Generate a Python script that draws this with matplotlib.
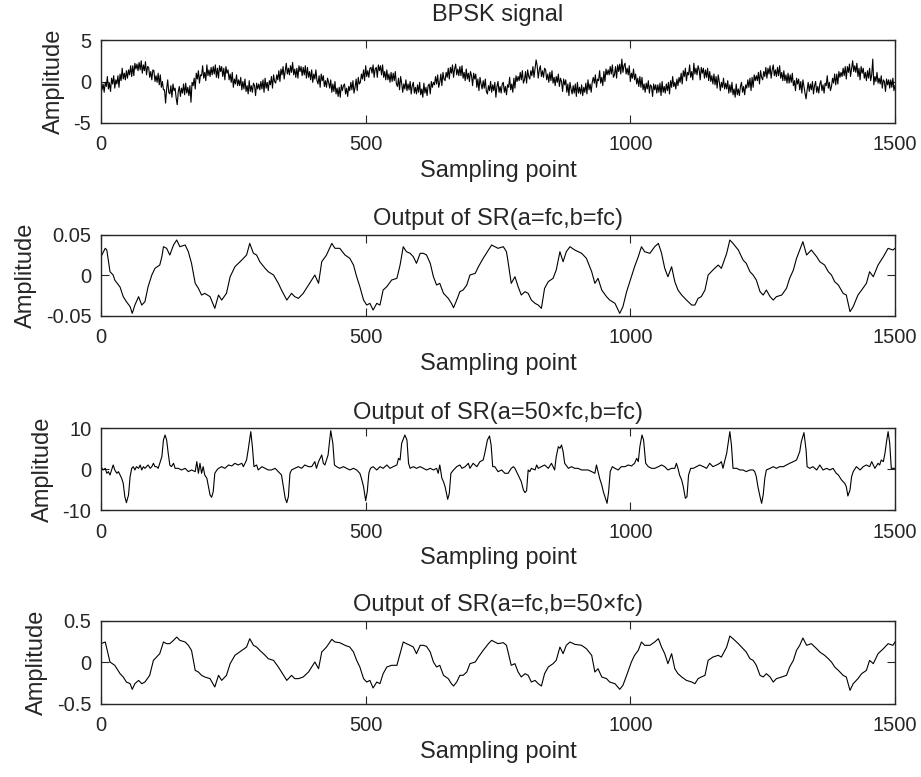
import numpy as np
import matplotlib
matplotlib.use('Agg')
import matplotlib.pyplot as plt

plt.rcParams['font.family'] = ['Liberation Sans', 'DejaVu Sans']

# ---------------- data ----------------
titles = ['BPSK signal', 'Output of SR(a=fc,b=fc)',
          'Output of SR(a=50×fc,b=fc)', 'Output of SR(a=fc,b=50×fc)']
ylims = [(-5, 5), (-0.05, 0.05), (-10, 10), (-0.5, 0.5)]
yticks = [[-5, 0, 5], [-0.05, 0, 0.05], [-10, 0, 10], [-0.5, 0, 0.5]]
yticklabels = [['-5', '0', '5'], ['-0.05', '0', '0.05'],
               ['-10', '0', '10'], ['-0.5', '0', '0.5']]
xticks = [0, 500, 1000, 1500]
xticklabels = ['0', '500', '1000', '1500']

# BPSK signal, one value every 2 sampling points (0..1500)
bpsk_x = np.arange(0, 1501, 2)
bpsk_y = [
    0.2, -1.0, -0.3, -1.3, -0.1, -0.6, 0.6, -0.9, -0.2, -1.2,
    0.4, -0.3, 0.7, -0.8, 0.2, -0.3, 0.7, -0.7, 0.9, 0.1,
    1.6, 0.3, 1.0, 0.2, 1.3, 0.4, 1.4, 0.8, 1.9, 0.6,
    1.9, 0.7, 2.2, 1.5, 2.1, 1.3, 2.3, 1.4, 2.5, 1.0,
    2.0, 1.3, 2.4, 0.8, 1.8, 1.7, 0.5, 1.2, 0.2, 1.4,
    1.3, 0.0, 0.7, -0.1, 1.0, -0.4, 0.8, -0.7, 0.0, -1.0,
    -1.0, -2.6, -0.9, 0.2, -1.3, -1.5, -0.5, -1.9, -0.3, -1.1,
    -0.8, -2.0, -2.8, -1.2, -0.6, -1.8, -0.8, -1.4, -0.3, -1.6,
    -0.2, -1.4, -0.7, -1.7, -0.5, -2.5, -0.1, -0.5, 0.4, -0.9,
    1.0, 0.3, 1.3, -0.2, 0.8, 0.7, 1.9, 0.4, 1.1, 0.1,
    2.0, 0.7, 1.4, 0.6, 1.7, 0.8, 1.8, 0.9, 2.0, 0.5,
    1.6, 0.4, 1.9, 1.2, 1.8, 0.6, 1.6, 0.2, 1.8, 1.0,
    1.4, 0.2, 0.9, -0.1, 1.1, -0.7, 0.3, -0.3, 0.8, -0.5,
    0.2, -0.5, 0.5, -1.0, 0.0, -0.9, 0.3, -1.2, -0.5, -1.5,
    0.1, -1.2, -0.5, -1.3, -0.2, -0.5, -1.7, -0.2, -0.9, -0.3,
    -1.0, 0.0, -0.9, 0.2, -1.3, 0.4, -0.8, -0.1, -1.1, 0.1,
    -0.4, 0.6, -0.8, 0.8, 0.0, -0.2, 0.8, 0.2, 1.3, 0.0,
    1.5, 0.8, 1.8, 0.3, 1.3, 2.2, 0.9, 1.6, 0.8, 1.9,
    1.1, 2.3, 0.8, 1.5, 0.5, 1.6, 0.4, 1.9, 1.2, 1.8,
    0.7, 1.7, 0.8, 1.9, 0.4, 1.7, 0.5, 1.2, 0.2, 1.4,
    -0.1, 0.9, 0.3, 1.4, 0.1, -0.3, 0.7, -0.7, 0.9, 0.1,
    0.7, -0.6, 0.1, -0.7, 0.4, -0.1, -0.8, 0.2, -1.3, -0.3,
    -1.2, 0.0, -1.5, -0.8, -1.8, -0.7, -1.9, -0.4, -1.1, -0.5,
    -0.3, -1.5, -0.8, -1.8, -0.6, -1.1, -0.1, -1.0, 0.1, -1.4,
    -0.7, 0.3, -1.1, 0.5, -0.3, -0.1, 0.9, 0.3, 1.4, 0.1,
    1.9, 0.6, 1.3, 0.5, 1.6, 1.7, 1.0, 2.0, 0.5, 1.5,
    1.7, 0.5, 2.0, 1.3, 1.9, 0.8, 2.0, 0.5, 1.2, 0.2,
    1.4, 0.2, 0.9, -0.1, 1.1, 0.0, 1.0, 0.1, 1.2, -0.3,
    -0.6, 0.4, -1.0, 0.6, -0.2, -1.3, -0.3, -0.9, 0.2, -1.1,
    -0.3, -1.0, 0.0, -1.5, -0.5, -0.1, -1.4, -0.7, -1.5, -0.4,
    -1.3, -0.1, -1.6, -0.9, -1.9, -0.2, -1.4, -0.7, -1.7, -0.5,
    -0.3, -1.5, 0.0, -0.7, -0.1, -0.4, 0.6, -0.3, 0.8, -0.7,
    -0.1, 0.9, -0.5, 1.1, 0.3, 0.1, 1.1, 0.5, 1.6, 0.3,
    1.7, 1.0, 2.0, 0.5, 1.5, 2.1, 0.8, 1.5, 0.7, 1.8,
    0.7, 1.9, 0.4, 1.1, 0.1, 1.5, 0.3, 1.0, 0.0, 1.2,
    0.7, -0.5, 1.0, 0.3, 0.9, -0.7, 0.3, -1.1, 0.5, -0.3,
    -0.9, 0.1, -0.8, 0.3, -1.2, -1.5, -0.5, -1.1, 0.0, -1.3,
    -0.4, -1.1, -0.1, -1.9, -0.6, 0.0, -1.3, -0.6, -1.4, -0.3,
    -0.1, -1.3, -0.6, -1.6, -0.4, -0.7, 0.5, -1.0, -0.3, -1.3,
    0.4, -0.8, 0.7, 0.0, 0.6, 0.1, 1.1, 0.2, 1.3, -0.2,
    0.2, 1.2, -0.2, 1.4, 0.6, 0.3, 1.3, 0.7, 1.8, 0.5,
    1.6, 2.6, 1.9, 0.4, 1.4, 1.9, 0.6, 1.3, 0.5, 1.6,
    1.4, 0.2, 0.9, -0.1, 1.1, 0.1, 1.3, -0.2, 0.5, -0.5,
    0.6, -0.1, 0.9, -0.6, 0.4, 0.0, -1.2, 0.3, -0.4, 0.2,
    -1.3, -0.3, -1.7, -0.1, -0.9, -1.5, -0.5, -1.4, -0.3, -1.8,
    -0.1, -1.4, -0.7, -1.5, -0.4, -1.7, -0.7, -1.3, -0.2, -1.5,
    0.2, -1.0, -0.3, -1.3, -0.1, 0.5, -0.2, 0.8, -0.7, 0.3,
    0.1, 1.3, -0.2, 0.5, -0.5, 1.2, 0.0, 1.5, 0.8, 1.4,
    0.8, 1.8, 0.9, 2.0, 0.5, 0.8, 1.8, 0.4, 2.0, 1.2,
    2.1, 0.9, 2.7, 1.1, 1.9, 2.2, 0.9, 1.6, 0.8, 1.9,
    0.0, 1.0, 0.4, 1.5, 0.2, 0.9, -0.3, 0.4, -0.6, 0.6,
    -0.7, 0.5, -1.0, -0.3, -1.3, -0.2, -0.9, 0.1, -1.4, -0.4,
    -0.6, -1.8, -0.3, -1.0, -0.4, -1.4, -0.4, -1.3, -0.2, -1.7,
    0.0, -1.3, -0.6, -1.4, -0.3, -1.1, -0.1, -1.5, 0.1, -0.7,
    0.6, -0.6, -0.1, -0.9, 0.3, -0.5, 0.5, -0.1, 1.0, -0.3,
    1.3, 0.6, 1.6, 0.1, 1.1, 0.8, 2.0, 0.5, 1.2, 0.2,
    2.2, 0.9, 1.6, 0.8, 1.9, 1.4, 0.2, 1.7, 1.0, 1.6,
    0.4, 1.4, 0.5, 1.6, 0.1, 1.2, 0.0, 0.7, -0.3, 0.9,
    -0.4, 0.6, -0.8, 0.8, 0.0, -1.1, -0.1, -0.7, 0.4, -0.9,
    -0.2, -0.9, 0.1, -1.4, -0.4, -1.3, -0.1, -1.6, -0.9, -1.9,
    -0.3, -1.6, -0.9, -1.7, -0.6, -0.1, -1.3, -0.6, -1.6, -0.4,
    -0.8, 0.2, -0.7, 0.4, -1.1, 0.5, -0.7, 0.8, 0.1, 0.7,
    0.1, 1.1, -0.3, 1.3, 0.5, 0.2, 1.2, 0.6, 1.7, 0.4,
    1.6, 0.9, 1.9, 0.4, 1.4, 2.0, 0.7, 1.4, 0.6, 1.7,
    0.7, 1.9, 0.4, 1.1, 0.1, 1.3, 0.1, 0.8, -0.2, 1.0,
    -0.2, 0.8, -0.1, 1.0, -0.5, 0.1, -1.1, 0.4, -0.3, 0.3,
    -1.0, 0.0, -1.4, 0.2, -0.6, -1.4, -2.1, -1.0, -0.1, -1.2,
    -0.3, -1.0, 0.0, -1.5, -0.5, 0.0, -1.3, -0.6, -1.4, -0.3,
    0.1, -1.1, -0.4, -1.4, -0.2, -0.5, 0.7, -0.8, -0.1, -1.1,
    -0.6, 0.4, -0.2, 0.9, -0.4, 0.9, -0.3, 1.2, 0.5, 1.1,
    0.6, 1.6, 0.7, 1.8, 0.3, 1.8, 1.1, 2.1, 0.6, 1.6,
    2.5, 1.2, 1.9, 1.1, 2.2, 0.6, 1.6, 0.2, 1.8, 1.0,
    1.6, 0.4, 1.1, 0.1, 1.3, 0.4, 1.6, 0.1, 0.8, 2.7,
    -0.4, 0.6, 0.0, 1.1, -0.2, 0.4, -0.3, 0.7, -0.8, 0.2,
    0.0, -1.2, 0.3, -0.4, 0.2, -0.8, 0.2, -0.7, 0.4, -1.1,
    -0.5]

# Output of SR(a=fc,b=fc)
sr1_x = [0, 8, 11, 17, 23, 26, 36, 42, 48, 55, 59, 64, 71, 77, 83, 89, 96, 102, 111, 115,
         118, 124, 130, 137, 143, 149, 159, 165, 171, 178, 184, 190, 196, 206, 215, 222, 228, 237, 244, 253,
         266, 275, 281, 288, 294, 300, 310, 316, 326, 335, 341, 351, 360, 366, 373, 382, 392, 398, 404, 411,
         417, 426, 436, 442, 451, 461, 470, 477, 483, 489, 496, 502, 508, 514, 521, 527, 533, 540, 549, 559,
         565, 571, 577, 584, 590, 596, 603, 609, 615, 622, 628, 634, 640, 647, 656, 662, 666, 672, 678, 684,
         691, 697, 707, 713, 722, 732, 738,
         744, 750, 760, 766, 769, 775, 782, 788, 794, 801, 807, 813, 820, 826, 832, 838, 845, 854, 860, 867,
         873, 879, 886, 895, 908, 917, 927, 933, 939, 946, 955, 961, 971, 980, 986, 993, 1002, 1008, 1015, 1021,
         1027, 1037, 1046, 1053, 1059, 1065, 1071, 1078, 1084, 1090, 1097, 1106, 1116, 1122, 1128, 1134, 1141,
         1147, 1156, 1166, 1172, 1182, 1188, 1194, 1204, 1213, 1219, 1226, 1232, 1238, 1245, 1251, 1257, 1264,
         1270, 1276, 1286, 1295, 1301, 1308, 1314, 1320, 1326, 1333, 1342, 1352, 1358, 1367, 1374, 1380, 1386,
         1393, 1402, 1408, 1415, 1421, 1430, 1437, 1446, 1452, 1459, 1468, 1478, 1487, 1496, 1500]
sr1_y = [0.0231, 0.0335, 0.0314, 0.0045, 0.0004, -0.0058, -0.0145, -0.0264, -0.0326, -0.0388,
         -0.0471, -0.0368, -0.0264, -0.0368, -0.0326, -0.0140, 0.0004, 0.0087, 0.0128, 0.0231,
         0.0355, 0.0335, 0.0252, 0.0376, 0.0438, 0.0355, 0.0376, 0.0293, 0.0149, -0.0099,
         -0.0161, -0.0244, -0.0223, -0.0264, -0.0409, -0.0244, -0.0306, -0.0223, -0.0017, 0.0107,
         0.0190, 0.0252, 0.0396, 0.0273, 0.0252, 0.0169, 0.0087, 0.0045, 0.0004, -0.0099,
         -0.0182, -0.0306, -0.0223, -0.0264, -0.0285, -0.0223, -0.0120, -0.0058, 0.0004, -0.0099,
         0.0169, 0.0252, 0.0396, 0.0335, 0.0335, 0.0252, 0.0211, 0.0128, -0.0017, -0.0140,
         -0.0306, -0.0368, -0.0347, -0.0430, -0.0347, -0.0368, -0.0182, -0.0140, -0.0058, -0.0037,
         0.0128, 0.0355, 0.0293, 0.0273, 0.0231, 0.0149, 0.0273, 0.0273, 0.0252, 0.0149,
         -0.0017, -0.0120, -0.0099, -0.0223, -0.0285, -0.0347, -0.0401, -0.0306, -0.0202, -0.0182,
         -0.0120, 0.0004, 0.0025, 0.0107, 0.0211, 0.0314, 0.0376,
         0.0355, 0.0335, 0.0355, 0.0293, 0.0169, -0.0099, -0.0017, -0.0140, -0.0244, -0.0202,
         -0.0223, -0.0306, -0.0347, -0.0368, -0.0409, -0.0161, -0.0078, -0.0037, 0.0066, 0.0293,
         0.0169, 0.0293, 0.0355, 0.0314, 0.0273, 0.0211, 0.0045, -0.0099, -0.0037, -0.0182,
         -0.0264, -0.0306, -0.0347, -0.0471, -0.0388, -0.0202, -0.0017, 0.0107, 0.0231, 0.0355,
         0.0293, 0.0273, 0.0355, 0.0396, 0.0273, 0.0087, -0.0017, 0.0107, -0.0078, -0.0182,
         -0.0244, -0.0306, -0.0368, -0.0368, -0.0285, -0.0264, -0.0182, 0.0004, 0.0066, 0.0128,
         0.0087, 0.0273, 0.0438, 0.0396, 0.0314, 0.0190, 0.0149, 0.0045, 0.0004, -0.0058,
         -0.0202, -0.0244, -0.0182, -0.0264, -0.0306, -0.0264, -0.0244, -0.0161, -0.0037, 0.0066,
         0.0211, 0.0314, 0.0417, 0.0252, 0.0314, 0.0231, 0.0169, 0.0128, 0.0045, 0.0004,
         -0.0078, -0.0120, -0.0223, -0.0244, -0.0450, -0.0388, -0.0244, -0.0182, -0.0099, 0.0045,
         -0.0017, 0.0128, 0.0231, 0.0335, 0.0314, 0.0335]

# Output of SR(a=50×fc,b=fc)
sr2_x = [0, 4, 8, 11, 14, 17, 20, 23, 26, 30, 33, 36, 39, 42, 45, 48, 52, 55, 58, 61,
         64, 67, 71, 74, 77, 80, 83, 86, 89, 93, 96, 99, 102, 105, 108, 111, 115, 118, 121, 124,
         127, 130, 133, 137, 140, 146, 152, 159, 165, 171, 178, 181, 184, 187, 190, 193, 196, 200, 203, 206,
         209, 212, 215, 219, 222, 228, 234, 241, 247, 253, 259, 266, 269, 272, 275, 278, 283, 286, 289, 294,
         297, 304, 310, 316, 322, 329, 335, 341, 344, 348, 351, 354, 357, 360, 366, 373, 379, 385, 392, 398,
         404, 407, 411, 417, 420, 423, 429, 434, 438, 441, 445, 451, 458, 464, 470, 477, 483, 489, 492, 496,
         500, 503, 506, 509, 514, 521, 527, 533, 540, 546, 552, 559, 562, 565, 568, 574, 578, 581, 584, 590,
         596, 603, 609, 615, 622, 628, 634, 637, 640, 644, 647, 650, 655, 658, 661, 666, 672, 678, 682, 688,
         694, 697, 703, 710, 716, 722, 725, 730, 734, 737, 740,
         744, 750, 757, 763, 769, 775, 779, 782, 788, 794, 798, 801, 804, 807, 810, 813, 820, 823, 826, 832,
         838, 845, 851, 857, 860, 864, 867, 870, 873, 876, 883, 889, 895, 901, 908, 914, 920, 927, 933, 936,
         939, 942, 946, 949, 952, 956, 959, 962, 966, 971, 977, 983, 990, 996, 1002, 1008, 1012, 1015, 1018,
         1022, 1025, 1029, 1034, 1040, 1046, 1053, 1059, 1065, 1071, 1078, 1084, 1087, 1090, 1093, 1097, 1100,
         1104, 1107, 1110, 1114, 1119, 1125, 1131, 1138, 1144, 1150, 1156, 1163, 1169, 1172, 1175, 1178, 1182,
         1188, 1191, 1194, 1201, 1207, 1213, 1219, 1226, 1232, 1235, 1238, 1241, 1245, 1248, 1251, 1254, 1257,
         1264, 1270, 1276, 1282, 1289, 1295, 1301, 1308, 1314, 1320, 1323, 1328, 1332, 1334, 1339, 1345, 1352,
         1358, 1364, 1371, 1377, 1383, 1389, 1393, 1399, 1405, 1408, 1411, 1415, 1418, 1421, 1427, 1434, 1440,
         1446, 1452, 1456, 1462, 1468, 1471, 1474, 1478, 1481, 1484, 1487, 1490, 1493, 1500]
sr2_y = [0.61, -0.20, 0.20, -1.02, -0.61, -1.43, -0.20, 1.02, -0.20, -1.02,
         -0.61, -1.43, -2.24, -3.47, -6.73, -8.20, -6.32, -1.84, 0.20, 0.61,
         -0.20, 0.61, 0.20, 1.02, -0.20, 0.61, 0.20, 0.61, 1.02, 0.20,
         0.61, 1.43, 0.61, 0.61, 0.20, 1.43, 3.06, 7.14, 8.36, 7.14,
         3.88, 1.02, 0.61, 1.43, 0.20, 0.20, -0.20, 0.20, -0.61, -0.20,
         -0.61, 1.84, -1.02, 1.43, -1.02, 0.61, -1.43, -2.24, -4.28, -6.32,
         -6.89, -5.51, -1.02, -0.20, 0.20, 0.61, 0.20, 1.02, 0.78, 1.43,
         1.02, 1.43, 0.61, 1.43, 2.24, 4.69, 9.18, 5.51, 0.61, 1.02,
         -0.20, 0.61, 0.20, -0.20, -0.20, 0.20, -0.61, -1.43, -3.88, -7.14,
         -8.20, -6.73, -1.02, -0.20, 0.20, 0.61, 0.20, 1.02, 0.61, 0.61,
         1.84, 0.20, 1.84, 3.47, 1.43, 1.02, 3.47, 9.42, 6.32, 1.02,
         0.61, 0.20, 0.61, 0.20, -0.20, 0.20, -0.20, -1.02, -2.24, -4.28,
         -7.71, -5.51, -1.02, 0.20, 0.61, -0.20, 0.61, 0.20, 1.02, 0.20,
         0.61, 1.02, 2.65, 2.24, 6.32, 8.36, 7.14, 1.43, 0.20, 0.61,
         0.20, 0.61, 0.20, -0.20, 0.20, -0.20, 0.20, -1.02, 1.02, -2.24,
         -3.06, -4.28, -7.38, -5.92, -1.02, -0.20, 0.61, 1.02, 0.20, 0.61,
         1.43, 0.20, 1.43, 0.61, 1.84, 2.24, 3.88, 7.14, 8.12, 5.92, 0.61,
         0.61, -0.61, -0.20, -1.02, -1.02, 0.20, 0.61, 0.20, -1.43, -3.06,
         -5.10, -5.75, -5.26, -0.20, -0.61, 0.20, -0.20, 1.02, 0.20, 0.61,
         1.02, 0.20, 1.43, -0.20, 3.06, 5.51, 5.10, 5.92, 4.28, 1.43,
         0.20, 0.61, 0.20, 0.20, -0.20, -0.20, -0.20, -0.61, -1.02, 1.02,
         -0.61, -2.24, -3.88, -5.51, -6.73, -8.36, -5.51, -0.61, 0.61, 0.20,
         -0.20, 0.61, 0.61, 1.02, 0.78, 1.43, 2.65, 1.84, 5.51, 8.36,
         7.14, 1.43, 0.61, 0.20, 0.20, 0.61, 1.02, 0.61, -0.20, 0.20,
         0.20, 1.43, 0.20, -1.43, -2.65, -4.28, -7.14, -6.73, -1.43, 0.20,
         0.20, 0.61, 1.02, 0.61, 0.20, 1.43, 0.61, 1.02, 1.43, 1.84,
         0.20, 1.84, 3.88, 9.18, 5.92, 0.20, 0.20, -0.20, -0.20, -0.61,
         -0.20, -0.20, -0.61, -1.84, -4.28, -6.73, -8.36, -6.32, -2.24, -0.20,
         0.20, 0.61, 0.20, 0.61, 0.61, 1.02, 1.43, 1.84, 2.24, 4.28,
         6.73, 8.94, 4.69, 0.61, 0.20, 0.61, -0.20, 1.02, -0.20, 0.20,
         -0.20, 0.20, -1.02, -1.43, -2.65, -3.47, -4.28, -6.57, -5.10, -1.84,
         -0.61, 0.61, -0.20, 0.61, 1.02, 0.61, 1.84, 0.20, 1.43, 1.02,
         2.24, 1.84, 3.88, 6.73, 9.18, 6.32, 0.20, 0.20]

# Output of SR(a=fc,b=50×fc)
sr3_x = [0, 8, 17, 26, 36, 42, 48, 55, 59, 64, 71, 77, 83, 92, 99, 105, 111, 118, 124, 130,
         137, 143, 149, 159, 165, 171, 178, 184, 190, 196, 206, 215, 222, 228, 237, 244, 253, 266, 275, 281,
         288, 294, 300, 310, 316, 326, 335, 341, 351, 360, 366, 373, 382, 392, 398, 404, 411, 417, 426, 436,
         442, 451, 461, 470, 477, 483, 489, 496, 502, 508, 514, 521, 527, 533, 540, 549, 559, 565, 571, 577,
         584, 590, 596, 603, 609, 615, 622, 628, 634, 640, 647, 656, 662, 666, 672, 678, 684, 691, 697, 707,
         713, 722, 732, 738,
         744, 750, 760, 766, 769, 775, 782, 788, 794, 801, 807, 813, 820, 826, 832, 838, 845, 854, 860, 867,
         873, 879, 886, 895, 908, 917, 927, 933, 939, 946, 955, 961, 971, 980, 986, 993, 1002, 1008, 1015, 1021,
         1027, 1037, 1046, 1053, 1059, 1065, 1071, 1078, 1084, 1090, 1097, 1106, 1116, 1122, 1128, 1134, 1141,
         1147, 1156, 1166, 1172, 1182, 1188, 1194, 1204, 1213, 1219, 1226, 1232, 1238, 1245, 1251, 1257, 1264,
         1270, 1276, 1286, 1295, 1301, 1308, 1314, 1320, 1326, 1333, 1342, 1352, 1358, 1367, 1374, 1380, 1386,
         1393, 1402, 1408, 1415, 1421, 1430, 1437, 1446, 1452, 1459, 1468, 1478, 1487, 1496, 1500]
sr3_y = [0.226, 0.246, 0.004, -0.036, -0.137, -0.177, -0.238, -0.258, -0.327, -0.258,
         -0.218, -0.258, -0.238, -0.157, 0.024, 0.064, 0.105, 0.246, 0.226, 0.226,
         0.266, 0.306, 0.266, 0.246, 0.206, 0.145, -0.097, -0.117, -0.157, -0.177,
         -0.197, -0.298, -0.157, -0.218, -0.157, -0.016, 0.085, 0.145, 0.185, 0.286,
         0.206, 0.185, 0.145, 0.085, 0.044, 0.024, -0.056, -0.117, -0.218, -0.157,
         -0.197, -0.197, -0.177, -0.117, -0.056, 0.004, -0.077, 0.125, 0.185, 0.278,
         0.246, 0.238, 0.206, 0.185, 0.125, 0.024, -0.056, -0.197, -0.238, -0.218,
         -0.310, -0.238, -0.258, -0.137, -0.056, -0.036, -0.036, 0.105, 0.246, 0.226,
         0.206, 0.185, 0.105, 0.206, 0.206, 0.193, 0.125, 0.004, -0.056, -0.036,
         -0.157, -0.197, -0.258, -0.286, -0.238, -0.157, -0.157, -0.117, -0.016, 0.004,
         0.064, 0.145, 0.226, 0.266,
         0.246, 0.226, 0.238, 0.206, 0.125, -0.036, -0.016, -0.117, -0.177, -0.137,
         -0.157, -0.238, -0.218, -0.258, -0.286, -0.137, -0.056, -0.016, 0.024, 0.185,
         0.105, 0.206, 0.246, 0.218, 0.206, 0.165, 0.085, -0.117, -0.077, -0.177,
         -0.197, -0.238, -0.258, -0.326, -0.278, -0.157, 0.004, 0.085, 0.145, 0.246,
         0.206, 0.206, 0.246, 0.286, 0.185, 0.105, -0.016, 0.105, -0.077, -0.137,
         -0.177, -0.218, -0.238, -0.258, -0.197, -0.177, -0.157, 0.024, 0.064, 0.085,
         0.064, 0.185, 0.318, 0.286, 0.226, 0.165, 0.125, 0.044, 0.024, -0.036,
         -0.157, -0.177, -0.137, -0.177, -0.238, -0.197, -0.177, -0.157, -0.056, 0.024,
         0.145, 0.206, 0.294, 0.206, 0.226, 0.165, 0.125, 0.085, 0.044, 0.004,
         -0.056, -0.097, -0.157, -0.177, -0.339, -0.258, -0.197, -0.137, -0.097, 0.024,
         -0.016, 0.105, 0.165, 0.226, 0.206, 0.246]

series = [(bpsk_x, bpsk_y), (sr1_x, sr1_y), (sr2_x, sr2_y), (sr3_x, sr3_y)]

# ---------------- figure ----------------
W, H = 921, 777
fig = plt.figure(figsize=(W / 100, H / 100), dpi=100)
txt = '#262626'
# axes boxes in pixels: (left, top, right, bottom)
boxes = [(101, 40, 895, 123), (101, 235, 895, 315.7),
         (101, 428.3, 895, 510), (101, 621, 895, 703.7)]
title_pads = [14, 7, 7, 7]

for i, ((x, y), box) in enumerate(zip(series, boxes)):
    l, t, r, b = box
    ax = fig.add_axes([l / W, 1 - b / H, (r - l) / W, (b - t) / H])
    ax.plot(x, y, color='black', lw=0.8)
    ax.set_xlim(0, 1500)
    ax.set_ylim(*ylims[i])
    ax.set_xticks(xticks)
    ax.set_xticklabels(xticklabels)
    ax.set_yticks(yticks[i])
    ax.set_yticklabels(yticklabels[i])
    ax.tick_params(axis='both', direction='in', top=True, right=True,
                   length=5.8, width=0.8, color=txt, labelcolor=txt,
                   labelsize=14.5)
    ax.tick_params(axis='x', pad=9)
    ax.tick_params(axis='y', pad=7)
    for sp in ax.spines.values():
        sp.set_color(txt)
        sp.set_linewidth(1.0)
    ax.set_title(titles[i], fontsize=17, color=txt, pad=title_pads[i])
    ax.set_xlabel('Sampling point', fontsize=17, color=txt, labelpad=4)
    ax.set_ylabel('Amplitude', fontsize=17, color=txt, labelpad=6)

fig.savefig('out.png', dpi=100)
